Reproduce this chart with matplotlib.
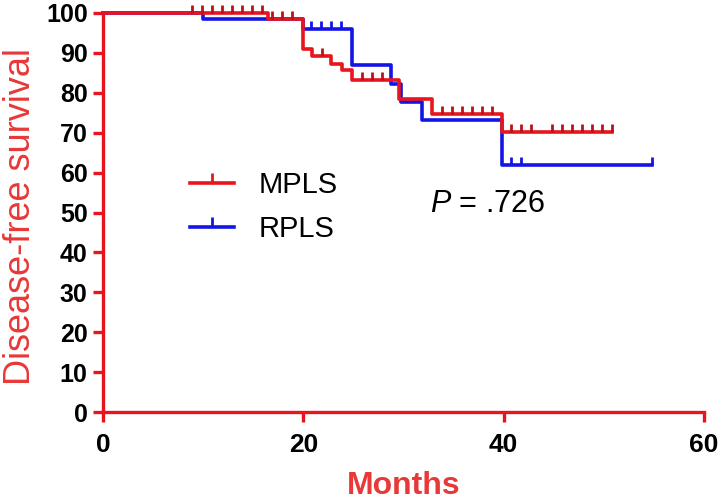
import numpy as np
import matplotlib
matplotlib.use("Agg")
import matplotlib.pyplot as plt
from matplotlib.lines import Line2D

plt.rcParams['font.family'] = ['Liberation Sans', 'DejaVu Sans']
plt.rcParams['mathtext.fontset'] = 'custom'
plt.rcParams['mathtext.it'] = 'Liberation Sans:italic'
plt.rcParams['mathtext.rm'] = 'Liberation Sans'

# Kaplan-Meier steps (months, % disease-free)
mpls_t = [0, 16.5, 20.0, 20.9, 22.8, 23.9, 24.9, 29.6, 32.8, 39.8, 50.8]
mpls_s = [100, 98.6, 91.0, 89.2, 87.2, 85.6, 83.1, 78.5, 74.6, 70.1, 70.1]
rpls_t = [0, 10.0, 20.0, 24.9, 28.8, 29.8, 31.8, 39.8, 54.8]
rpls_s = [100, 98.5, 95.9, 86.9, 82.3, 77.7, 73.3, 61.9, 61.9]

# censored observations
mpls_cens = [8.9, 9.9, 10.9, 11.9, 12.9, 13.9, 14.9, 15.9, 16.9, 17.9, 18.9,
             21.9, 25.9, 26.9, 27.9, 33.8, 34.8, 35.8, 36.8, 37.8, 38.8,
             40.7, 41.7, 42.7, 44.8, 45.8, 46.8, 47.8, 48.8, 49.8, 50.8]
rpls_cens = [20.8, 21.8, 22.8, 23.8, 40.7, 41.7, 54.8]

groups = ['MPLS', 'RPLS']
p_text = r'$\mathit{P}$ = .726'

red = '#E8141E'
red_tick = '#B8121A'
blue = '#1414E6'
axis_red = '#E8141E'


def surv_at(times, t, s):
    idx = np.searchsorted(t, times, side='right') - 1
    return np.asarray(s)[idx]


fig = plt.figure(figsize=(7.2, 5.01), dpi=100)
ax = fig.add_axes([103 / 720, 1 - 412 / 501, 601 / 720, 399 / 501])

ax.step(rpls_t, rpls_s, where='post', color=blue, lw=2.6, clip_on=False, zorder=3)
ax.plot(rpls_cens, surv_at(rpls_cens, rpls_t, rpls_s), ls='none', marker=2,
        ms=6, mew=2, color=blue, clip_on=False, zorder=3)
ax.step(mpls_t, mpls_s, where='post', color=red, lw=2.6, clip_on=False, zorder=4)
ax.plot(mpls_cens, surv_at(mpls_cens, mpls_t, mpls_s), ls='none', marker=2,
        ms=6, mew=2, color=red_tick, clip_on=False, zorder=4)

ax.set_xlim(0, 60)
ax.set_ylim(0, 100)
ax.set_xticks([0, 20, 40, 60])
ax.set_yticks(np.arange(0, 101, 10))

for side in ['top', 'right']:
    ax.spines[side].set_visible(False)
for side in ['left', 'bottom']:
    ax.spines[side].set_color(axis_red)
    ax.spines[side].set_linewidth(2.4)

ax.tick_params(axis='both', colors=axis_red, width=2.4, length=7, labelcolor='black')
ax.tick_params(axis='y', labelsize=18, pad=4)
ax.tick_params(axis='x', labelsize=19, pad=8)
for lab in ax.get_xticklabels() + ax.get_yticklabels():
    lab.set_fontweight('bold')

ax.set_xlabel('Months', fontsize=23, fontweight='bold', color='#E83838')
ax.xaxis.set_label_coords(0.5, -0.148)
ax.set_ylabel('Disease-free survival', fontsize=26, color='#E83838')
ax.yaxis.set_label_coords(-0.108, 0.49)

handles = [Line2D([], [], color=red, lw=2.6, marker=2, ms=7, mew=2),
           Line2D([], [], color=blue, lw=2.6, marker=2, ms=7, mew=2)]
ax.legend(handles, groups, loc='center left', bbox_to_anchor=(0.145, 0.514),
          frameon=False, fontsize=21, handlelength=1.5, handletextpad=0.85,
          labelspacing=0.55, borderpad=0, borderaxespad=0)

ax.text(0.544, 0.521, p_text, transform=ax.transAxes, fontsize=22,
        ha='left', va='center')

fig.savefig('out.png', dpi=100)
